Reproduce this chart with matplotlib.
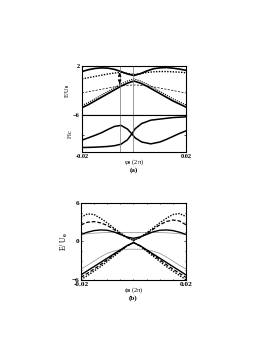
import numpy as np
import matplotlib
matplotlib.use("Agg")
import matplotlib.pyplot as plt
from matplotlib.ticker import MultipleLocator

plt.rcParams["font.family"] = ["Liberation Serif", "DejaVu Serif"]
plt.rcParams["font.weight"] = "bold"
plt.rcParams["mathtext.fontset"] = "custom"
plt.rcParams["mathtext.rm"] = "Liberation Serif:bold"
plt.rcParams["mathtext.bf"] = "Liberation Serif:bold"
plt.rcParams["mathtext.default"] = "bf"

# common flux grid (units of 2 pi)
phi = [-0.02, -0.0175, -0.015, -0.0125, -0.01, -0.0075, -0.005, -0.0025, 0.0,
       0.0025, 0.005, 0.0075, 0.01, 0.0125, 0.015, 0.0175, 0.02]

# panel (a), energies E/U0
a_upper = [1.1, 1.4, 1.6, 1.7, 1.65, 1.45, 1.1, 0.7, 0.45,
           0.75, 1.2, 1.55, 1.7, 1.75, 1.65, 1.5, 1.3]
a_dotted = [-0.1, 0.1, 0.3, 0.5, 0.7, 0.85, 0.95, 0.8, 0.6,
            0.75, 0.95, 1.05, 1.1, 1.1, 1.05, 1.0, 0.9]
a_dashed = [-2.4, -2.2, -2.0, -1.8, -1.6, -1.4, -1.25, -1.15, -1.1,
            -1.15, -1.25, -1.4, -1.6, -1.8, -2.0, -2.2, -2.4]
a_lower = [-4.8, -4.3, -3.7, -3.1, -2.5, -1.9, -1.3, -0.8, -0.45,
           -0.8, -1.3, -1.9, -2.5, -3.1, -3.7, -4.2, -4.7]
a_lower_dot = [v + 0.35 for v in a_lower]

# panel (a), currents I/Ic (arbitrary scale 0..1)
ic_phi = [-0.02, -0.015, -0.0125, -0.01, -0.0075, -0.005, -0.0025, -0.0008,
          0.0005, 0.003, 0.0065, 0.01, 0.0125, 0.015, 0.0175, 0.02]
ic_a = [0.32, 0.45, 0.52, 0.61, 0.69, 0.72, 0.62, 0.49,
        0.38, 0.27, 0.22, 0.27, 0.34, 0.42, 0.5, 0.57]
ic_b = [0.12, 0.13, 0.14, 0.15, 0.17, 0.21, 0.33, 0.49,
        0.63, 0.77, 0.86, 0.89, 0.91, 0.93, 0.94, 0.95]

marker_phi = [-0.0055, -0.0005]

# panel (b), energies E/U0
b_dot_up = [3.8, 4.3, 4.2, 3.6, 2.9, 2.1, 1.35, 0.65, 0.15,
            0.65, 1.35, 2.1, 2.9, 3.6, 4.2, 4.35, 3.9]
b_dash_up = [2.6, 3.0, 3.1, 2.9, 2.5, 1.9, 1.2, 0.6, 0.2,
             0.6, 1.2, 1.9, 2.6, 3.1, 3.35, 3.2, 2.6]
b_solid_up = [1.1, 1.45, 1.7, 1.8, 1.75, 1.5, 1.1, 0.7, 0.5,
              0.7, 1.1, 1.5, 1.75, 1.8, 1.7, 1.45, 1.1]
b_gray_up = [1.1, 1.2, 1.3, 1.35, 1.4, 1.4, 1.4, 1.4, 1.4,
             1.4, 1.4, 1.4, 1.4, 1.35, 1.3, 1.2, 1.1]
b_dot_lo = [-5.95, -5.3, -4.6, -3.9, -3.1, -2.3, -1.5, -0.7, -0.1,
            -0.7, -1.5, -2.3, -3.1, -3.9, -4.6, -5.3, -5.95]
b_dash_lo = [-5.6, -4.95, -4.3, -3.6, -2.85, -2.1, -1.4, -0.7, -0.15,
             -0.7, -1.4, -2.1, -2.85, -3.6, -4.3, -4.95, -5.6]
b_solid_lo = [-5.2, -4.55, -3.9, -3.25, -2.6, -1.95, -1.3, -0.65, -0.2,
              -0.65, -1.3, -1.95, -2.6, -3.25, -3.9, -4.55, -5.2]
b_gray_lo = [-4.3, -3.7, -3.05, -2.4, -1.85, -1.5, -1.3, -1.2, -1.2,
             -1.2, -1.3, -1.5, -1.85, -2.4, -3.05, -3.7, -4.3]

fig = plt.figure(figsize=(2.77, 3.58), dpi=100)
fs = 4.6

def style(ax):
    ax.tick_params(direction="in", length=1.5, width=0.5, labelsize=fs, pad=1.5,
                   top=True, right=True, which="both")
    ax.tick_params(which="minor", length=1.0)
    for s in ax.spines.values():
        s.set_linewidth(0.8)

# ---- (a) energies
ax1 = fig.add_axes([0.296, 0.6788, 0.375, 0.1368])
ax1.plot(phi, a_upper, color="black", lw=1.2)
ax1.plot(phi, a_dotted, color="black", lw=1.0, ls=(0, (1, 1)))
ax1.plot(phi, a_dashed, color="black", lw=0.5, ls=(0, (3, 2)))
ax1.plot(phi, a_lower, color="black", lw=1.2)
ax1.plot(phi, a_lower_dot, color="black", lw=0.8, ls=(0, (1, 1)))
for xm in marker_phi:
    ax1.axvline(xm, color="0.45", lw=0.5)
top = np.interp(marker_phi[0], phi, a_upper)
bot = np.interp(marker_phi[0], phi, a_lower)
ax1.annotate("", xy=(marker_phi[0], top + 0.2), xytext=(marker_phi[0], top - 1.0),
             arrowprops=dict(arrowstyle="-|>", color="black", lw=0.6,
                             mutation_scale=5))
ax1.annotate("", xy=(marker_phi[0], bot + 0.1), xytext=(marker_phi[0], bot + 1.1),
             arrowprops=dict(arrowstyle="-|>", color="black", lw=0.6,
                             mutation_scale=5))
ax1.set_xlim(-0.02, 0.02)
ax1.set_ylim(-6, 2)
ax1.set_yticks([-6, 2])
ax1.set_xticks([-0.02, 0.02])
ax1.set_xticklabels([])
ax1.set_ylabel("E/U$_0$", fontsize=fs, labelpad=1)
style(ax1)

# ---- (a) currents
ax2 = fig.add_axes([0.296, 0.5754, 0.375, 0.1034])
ax2.plot(ic_phi, ic_a, color="black", lw=1.1)
ax2.plot(ic_phi, ic_b, color="black", lw=1.1)
for xm in marker_phi:
    ax2.axvline(xm, color="0.45", lw=0.5)
ax2.set_xlim(-0.02, 0.02)
ax2.set_ylim(0, 1)
ax2.set_yticks([0.45])
ax2.set_yticklabels([])
ax2.set_xticks([-0.02, 0.02])
ax2.set_xticklabels(["-0.02", "0.02"])
ax2.set_ylabel("I/Ic", fontsize=fs, labelpad=5)
ax2.set_xlabel("φ$_0$ (2π)", fontsize=fs, labelpad=0)
ax2.xaxis.set_label_coords(0.5, -0.14)
style(ax2)
ax2.text(0.5, -0.5, "(a)", transform=ax2.transAxes, ha="center", va="center",
         fontsize=5)

# ---- (b)
ax3 = fig.add_axes([0.2924, 0.2179, 0.379, 0.2151])
ax3.plot(phi, b_gray_up, color="0.55", lw=0.5)
ax3.plot(phi, b_gray_lo, color="0.55", lw=0.5)
ax3.plot(phi, b_solid_up, color="black", lw=1.0)
ax3.plot(phi, b_solid_lo, color="black", lw=1.0)
ax3.plot(phi, b_dash_up, color="black", lw=0.9, ls=(0, (3, 1.5)))
ax3.plot(phi, b_dash_lo, color="black", lw=0.9, ls=(0, (3, 1.5)))
ax3.plot(phi, b_dot_up, color="black", lw=1.0, ls=(0, (1, 1)))
ax3.plot(phi, b_dot_lo, color="black", lw=1.0, ls=(0, (1, 1)))
ax3.set_xlim(-0.02, 0.02)
ax3.set_ylim(-6, 6)
ax3.set_yticks([-6, 0, 6])
ax3.set_xticks([-0.02, 0.02])
ax3.set_xticklabels(["-0.02", "0.02"])
ax3.xaxis.set_minor_locator(MultipleLocator(0.005))
ax3.yaxis.set_minor_locator(MultipleLocator(1.5))
ax3.set_ylabel("E/ U$_0$", fontsize=5.5, labelpad=1)
ax3.set_xlabel("ϕ$_0$ (2π)", fontsize=fs, labelpad=0)
ax3.xaxis.set_label_coords(0.5, -0.07)
style(ax3)
ax3.tick_params(labelsize=5.2)
ax3.text(0.5, -0.24, "(b)", transform=ax3.transAxes, ha="center", va="center",
         fontsize=5)

fig.savefig("out.png", dpi=100)
